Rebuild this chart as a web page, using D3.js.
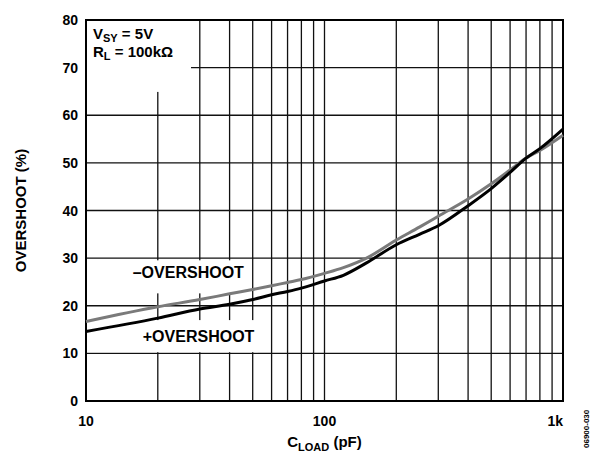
<!DOCTYPE html>
<html lang="en">
<head>
  <meta charset="UTF-8" />
  <title>Overshoot vs Load Capacitance</title>
  <style>
    body { margin: 0; background: #fff; }
    text { font-family: 'Liberation Sans', Arial, sans-serif; font-weight: bold; fill: #000; }
  </style>
  <script src="https://d3js.org/d3.v7.min.js"></script>
</head>
<body>
  <svg id="chart"></svg>

  <script>
    // load capacitance (pF)
    const cLoad = [10, 20, 30, 40, 50, 60, 70, 80, 100, 120, 150, 200, 250, 300, 400, 500, 600, 700, 800, 1000];
    // overshoot (%)
    const plusOvershoot = [14.6, 17.4, 19.3, 20.3, 21.3, 22.3, 23.0, 23.7, 25.2, 26.4, 29.0, 32.8, 35.0, 36.8, 41.0, 44.6, 48.0, 51.0, 53.0, 57.1];
    const minusOvershoot = [16.7, 19.8, 21.3, 22.5, 23.4, 24.2, 24.9, 25.5, 26.8, 28.0, 30.0, 33.8, 36.5, 38.8, 42.4, 45.6, 48.5, 51.0, 52.6, 55.8];

    const yTicks = [0, 10, 20, 30, 40, 50, 60, 70, 80];
    const xGrid = [20, 30, 40, 50, 60, 70, 80, 90, 100, 200, 300, 400, 500, 600, 700, 800, 900];
    const xTickLabels = [[10, '10'], [100, '100'], [1000, '1k']];

    const width = 595, height = 454;
    const margin = { top: 20, right: 32, bottom: 53, left: 86 };

    const svg = d3.select('#chart').attr('width', width).attr('height', height);

    const x = d3.scaleLog().domain([10, 1000]).range([margin.left, width - margin.right]);
    const y = d3.scaleLinear().domain([0, 80]).range([height - margin.bottom, margin.top]);

    // grid
    const grid = svg.append('g').attr('stroke', '#111').attr('stroke-width', 1.3);
    grid.selectAll('line.v').data(xGrid).enter().append('line')
      .attr('x1', d => x(d)).attr('x2', d => x(d))
      .attr('y1', y(0)).attr('y2', y(80));
    grid.selectAll('line.h').data(yTicks.slice(1, -1)).enter().append('line')
      .attr('x1', x(10)).attr('x2', x(1000))
      .attr('y1', d => y(d)).attr('y2', d => y(d));

    // white boxes behind the labels
    const masks = [
      [x(10), y(80), x(27.3), y(70) + 1.5],
      [x(10), y(80), x(23), y(64.9)],
      [x(10), y(30) + 1.2, x(46), y(22.6)],
      [x(10), y(17.2), x(52), y(10) - 1.2]
    ];
    svg.append('g').selectAll('rect').data(masks).enter().append('rect')
      .attr('x', d => d[0] + 1).attr('y', d => d[1] + 1)
      .attr('width', d => d[2] - d[0]).attr('height', d => d[3] - d[1] - 1)
      .attr('fill', '#fff');

    // frame
    svg.append('rect')
      .attr('x', x(10)).attr('y', y(80))
      .attr('width', x(1000) - x(10)).attr('height', y(0) - y(80))
      .attr('fill', 'none').attr('stroke', '#000').attr('stroke-width', 2);

    // curves
    const line = d3.line()
      .x(d => x(d[0])).y(d => y(d[1]))
      .curve(d3.curveMonotoneX);

    svg.append('path')
      .datum(cLoad.map((c, i) => [c, minusOvershoot[i]]))
      .attr('d', line).attr('fill', 'none')
      .attr('stroke', '#7a7a7a').attr('stroke-width', 3);

    svg.append('path')
      .datum(cLoad.map((c, i) => [c, plusOvershoot[i]]))
      .attr('d', line).attr('fill', 'none')
      .attr('stroke', '#000').attr('stroke-width', 3);

    // y tick labels
    svg.append('g').selectAll('text').data(yTicks).enter().append('text')
      .attr('x', x(10) - 8).attr('y', d => y(d) + 5)
      .attr('text-anchor', 'end').attr('font-size', 14)
      .text(d => d);

    // x tick labels
    svg.append('g').selectAll('text').data(xTickLabels).enter().append('text')
      .attr('x', d => x(d[0]))
      .attr('y', y(0) + 25)
      .attr('text-anchor', d => d[0] === 1000 ? 'end' : 'middle')
      .attr('font-size', 14)
      .text(d => d[1]);

    // axis titles
    svg.append('text')
      .attr('transform', `translate(26,${(y(0) + y(80)) / 2}) rotate(-90)`)
      .attr('text-anchor', 'middle').attr('font-size', 15)
      .text('OVERSHOOT (%)');

    const xt = svg.append('text')
      .attr('x', x(100)).attr('y', height - 7)
      .attr('text-anchor', 'middle').attr('font-size', 15);
    xt.append('tspan').text('C');
    xt.append('tspan').attr('font-size', 11).attr('dy', 4).text('LOAD');
    xt.append('tspan').attr('dy', -4).text(' (pF)');

    // conditions
    const c1 = svg.append('text').attr('x', x(10) + 7).attr('y', y(80) + 19).attr('font-size', 15);
    c1.append('tspan').text('V');
    c1.append('tspan').attr('font-size', 11).attr('dy', 2.5).text('SY');
    c1.append('tspan').attr('dy', -2.5).text(' = 5V');

    const c2 = svg.append('text').attr('x', x(10) + 7).attr('y', y(80) + 37).attr('font-size', 15);
    c2.append('tspan').text('R');
    c2.append('tspan').attr('font-size', 11).attr('dy', 2.5).text('L');
    c2.append('tspan').attr('dy', -2.5).text(' = 100kΩ');

    // series labels
    svg.append('text').attr('x', x(15.7)).attr('y', y(25.8))
      .attr('font-size', 16).text('\u2013OVERSHOOT');
    svg.append('text').attr('x', x(17.3)).attr('y', y(12.4))
      .attr('font-size', 16).text('+OVERSHOOT');

    // figure code
    svg.append('text')
      .attr('transform', `translate(589,448) rotate(-90)`)
      .attr('font-size', 8).attr('font-weight', 'normal').attr('fill', '#555')
      .text('06900-030');
  </script>
</body>
</html>
